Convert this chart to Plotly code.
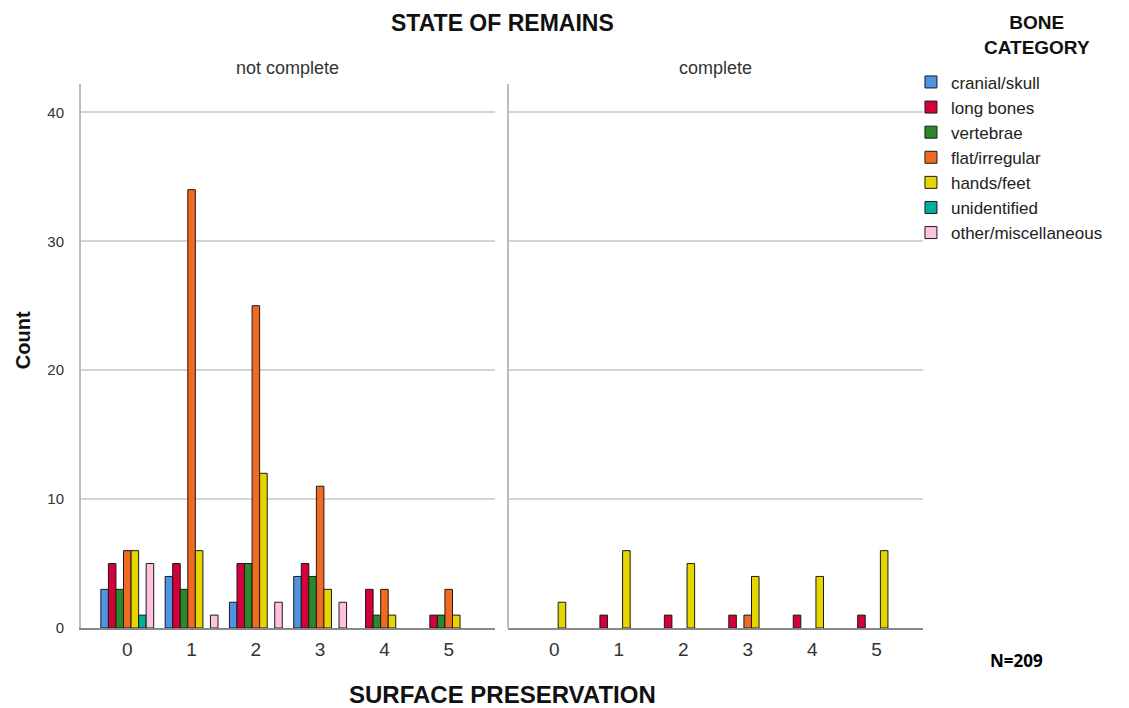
import plotly.graph_objects as go

surface = [0, 1, 2, 3, 4, 5]
categories = ["cranial/skull", "long bones", "vertebrae", "flat/irregular",
              "hands/feet", "unidentified", "other/miscellaneous"]
colors = ["#4F93E3", "#D4003A", "#2A8A2A", "#F26A22", "#E6D600", "#00AE9E", "#FFC2DE"]

# counts for "not complete" (one list per bone category, over surface preservation 0..5)
not_complete = {
    "cranial/skull":       [3, 4, 2, 4, 0, 0],
    "long bones":          [5, 5, 5, 5, 3, 1],
    "vertebrae":           [3, 3, 5, 4, 1, 1],
    "flat/irregular":      [6, 34, 25, 11, 3, 3],
    "hands/feet":          [6, 6, 12, 3, 1, 1],
    "unidentified":        [1, 0, 0, 0, 0, 0],
    "other/miscellaneous": [5, 1, 2, 2, 0, 0],
}
# counts for "complete"
complete = {
    "cranial/skull":       [0, 0, 0, 0, 0, 0],
    "long bones":          [0, 1, 1, 1, 1, 1],
    "vertebrae":           [0, 0, 0, 0, 0, 0],
    "flat/irregular":      [0, 0, 0, 1, 0, 0],
    "hands/feet":          [2, 6, 5, 4, 4, 6],
    "unidentified":        [0, 0, 0, 0, 0, 0],
    "other/miscellaneous": [0, 0, 0, 0, 0, 0],
}
y_ticks = [0, 10, 20, 30, 40]

FONT = "Liberation Sans, Arial, sans-serif"

fig = go.Figure()
for cat, col in zip(categories, colors):
    fig.add_trace(go.Bar(
        x=surface, y=[v if v else None for v in not_complete[cat]], name=cat,
        marker=dict(color=col, line=dict(color="#1a1a1a", width=1)),
        legendgroup=cat, showlegend=True, xaxis="x", yaxis="y"))
for cat, col in zip(categories, colors):
    fig.add_trace(go.Bar(
        x=surface, y=[v if v else None for v in complete[cat]], name=cat,
        marker=dict(color=col, line=dict(color="#1a1a1a", width=1)),
        legendgroup=cat, showlegend=False, xaxis="x2", yaxis="y"))

axis_font = dict(family=FONT, size=19, color="#333333")
xcommon = dict(range=[-0.72, 5.72], tickmode="array", tickvals=surface,
               ticktext=[str(s) for s in surface], showgrid=False, zeroline=False,
               showline=True, linecolor="#888888", linewidth=2, ticks="",
               ticklabelstandoff=3, tickfont=axis_font, anchor="y")

# page has an 8px body margin, so the figure is 8px smaller and shifted
fig.update_layout(
    width=1121, height=700,
    margin=dict(l=73, r=206, t=76, b=80),
    paper_bgcolor="white", plot_bgcolor="white",
    barmode="group", bargap=0.178, bargroupgap=0,
    font=dict(family=FONT, color="#222222"),
    xaxis=dict(domain=[0, 0.4917], **xcommon),
    xaxis2=dict(domain=[0.5071, 1], **xcommon),
    yaxis=dict(range=[0, 42.2], tickvals=y_ticks, showgrid=True,
               gridcolor="#D4D4D4", gridwidth=2, zeroline=False,
               showline=True, linecolor="#BBBBBB", linewidth=2,
               tickfont=dict(family=FONT, size=15, color="#333333"),
               ticklabelstandoff=12, ticks=""),
    legend=dict(x=0.9857, xanchor="left", y=1.036, yanchor="top",
                font=dict(family=FONT, size=17, color="#222222"),
                bgcolor="rgba(0,0,0,0)", itemclick=False, tracegroupgap=0),
    showlegend=True,
)

# vertical line at the left of the right panel
fig.add_shape(type="line", xref="paper", yref="paper",
              x0=0.5071, x1=0.5071, y0=0, y1=1,
              line=dict(color="#BBBBBB", width=2))

fig.add_annotation(text="<b>STATE OF REMAINS</b>", xref="paper", yref="paper",
                   x=0.5, y=1.113, xanchor="center", yanchor="middle",
                   showarrow=False, font=dict(family=FONT, size=23, color="#111111"))
fig.add_annotation(text="not complete", xref="paper", yref="paper",
                   x=0.2458, y=1.03, xanchor="center", yanchor="middle",
                   showarrow=False, font=dict(family=FONT, size=18, color="#333333"))
fig.add_annotation(text="complete", xref="paper", yref="paper",
                   x=0.7536, y=1.03, xanchor="center", yanchor="middle",
                   showarrow=False, font=dict(family=FONT, size=18, color="#333333"))
fig.add_annotation(text="<b>SURFACE PRESERVATION</b>", xref="paper", yref="paper",
                   x=0.5, y=-0.123, xanchor="center", yanchor="middle",
                   showarrow=False, font=dict(family=FONT, size=24, color="#111111"))
fig.add_annotation(text="<b>Count</b>", xref="paper", yref="paper",
                   x=-0.0695, y=0.53, xanchor="center", yanchor="middle", textangle=-90,
                   showarrow=False, font=dict(family=FONT, size=20, color="#111111"))
fig.add_annotation(text="<b>BONE<br>CATEGORY</b>", xref="paper", yref="paper",
                   x=1.1354, y=1.090, xanchor="center", yanchor="middle",
                   showarrow=False, font=dict(family=FONT, size=19, color="#111111"), align="center")
fig.add_annotation(text="<b>N=209</b>", xref="paper", yref="paper",
                   x=1.1116, y=-0.06, xanchor="center", yanchor="middle",
                   showarrow=False, font=dict(family="Open Sans, sans-serif", size=17, color="#000000"))

fig.write_html("out.html")
